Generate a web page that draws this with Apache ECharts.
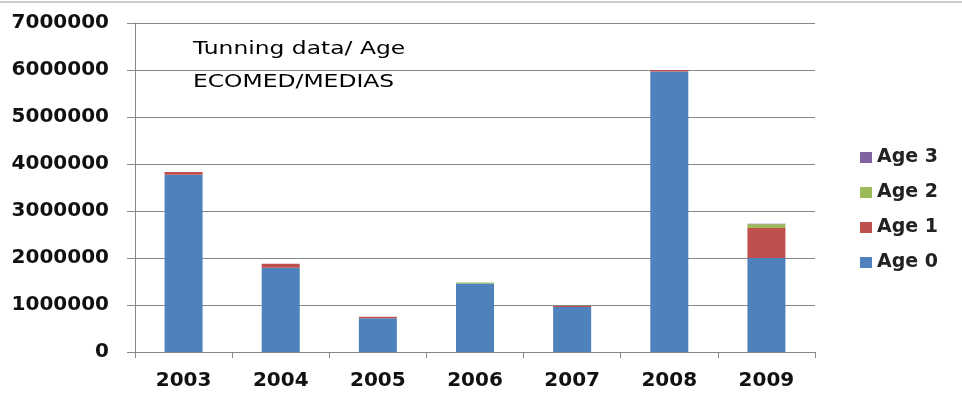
<!DOCTYPE html>
<html>
<head>
<meta charset="utf-8">
<script src="https://cdn.jsdelivr.net/npm/echarts@6/dist/echarts.min.js"></script>
<style>
  html, body { margin: 0; padding: 0; background: #fff; }
  #chart { width: 962px; height: 405px; }
</style>
</head>
<body>
<div id="chart"></div>
<script>
// data
const years = ["2003", "2004", "2005", "2006", "2007", "2008", "2009"];
const age0 = [3770000, 1790000, 720000, 1460000, 960000, 5970000, 2000000];
const age1 = [60000, 90000, 30000, 0, 20000, 30000, 640000];
const age2 = [0, 0, 0, 20000, 0, 0, 80000];
const age3 = [0, 0, 0, 0, 0, 0, 10000];
const seriesNames = ["Age 0", "Age 1", "Age 2", "Age 3"];
const colors = ["#4F81BD", "#C0504D", "#9BBB59", "#8064A2"];

const chart = echarts.init(document.getElementById("chart"));
const font = "DejaVu Sans";

const values = [age0, age1, age2, age3];
const series = seriesNames.map(function (name, i) {
  return {
    name: name,
    type: "bar",
    stack: "total",
    barWidth: 38,
    data: values[i],
    itemStyle: { color: colors[i] }
  };
});

chart.setOption({
  animation: false,
  color: colors,
  grid: { left: 135, right: 147, top: 23, bottom: 53 },
  legend: {
    orient: "vertical",
    left: 855,
    top: 143,
    itemWidth: 12,
    itemHeight: 11,
    itemGap: 16,
    icon: "rect",
    data: ["Age 3", "Age 2", "Age 1", "Age 0"],
    textStyle: { fontFamily: font, fontSize: 19, fontWeight: "bold", color: "#222" }
  },
  xAxis: {
    type: "category",
    data: years,
    axisLine: { lineStyle: { color: "#888", width: 1 } },
    axisTick: { show: true, length: 6, lineStyle: { color: "#888" } },
    axisLabel: {
      fontFamily: font, fontSize: 20, fontWeight: "bold", color: "#111", margin: 19
    }
  },
  yAxis: {
    type: "value",
    min: 0,
    max: 7000000,
    interval: 1000000,
    axisLine: { show: true, lineStyle: { color: "#888" } },
    axisTick: { show: true, length: 8, lineStyle: { color: "#888" } },
    splitLine: { lineStyle: { color: "#888", width: 1 } },
    axisLabel: {
      fontFamily: font, fontSize: 20, fontWeight: "bold", color: "#111", margin: 26,
      formatter: function (v) { return String(v); }
    }
  },
  graphic: [
    {
      type: "line",
      shape: { x1: 0, y1: 2, x2: 962, y2: 2 },
      style: { stroke: "#999", lineWidth: 1 }
    },
    {
      type: "text",
      x: 193,
      y: 40,
      scaleX: 1.3,
      style: {
        text: "Tunning data/ Age",
        fontFamily: font, fontSize: 18, fill: "#000"
      }
    },
    {
      type: "text",
      x: 193,
      y: 73,
      scaleX: 1.3,
      style: {
        text: "ECOMED/MEDIAS",
        fontFamily: font, fontSize: 18, fill: "#000"
      }
    }
  ],
  series: series
});
</script>
</body>
</html>
